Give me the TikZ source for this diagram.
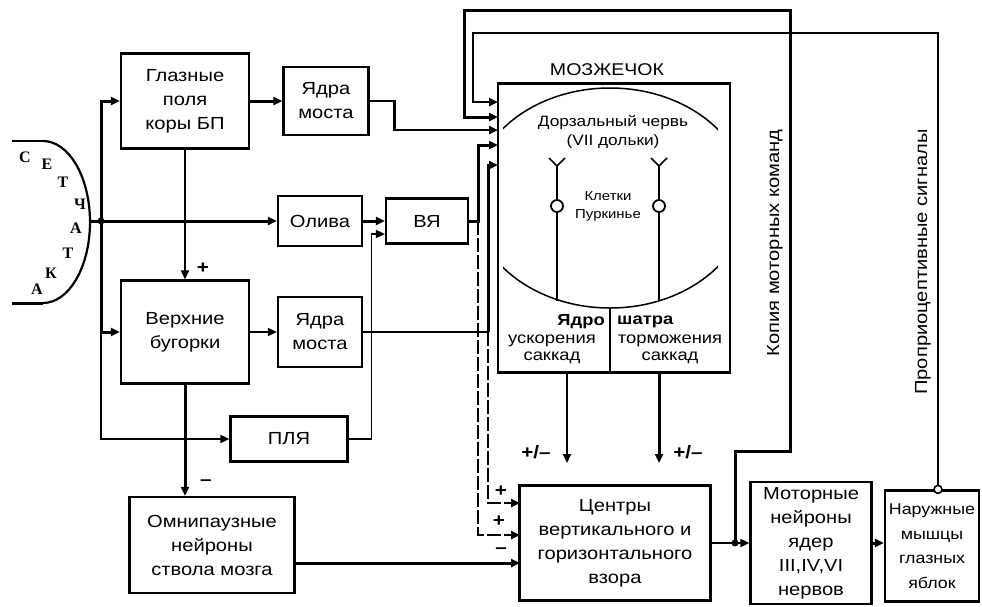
\documentclass[tikz,border=0pt]{standalone}
\usepackage{fontspec}
\setmainfont{Liberation Sans}[FakeStretch=1.15]
\newfontfamily\retinafont{Liberation Serif}
\usetikzlibrary{arrows.meta, positioning, calc}

\newcommand{\boxfont}{\fontsize{17.5}{24}\selectfont}

\begin{document}
\begin{tikzpicture}[
    x=1pt, y=-1pt,
    block/.style={rectangle, draw, line width=2.2pt, align=center, font=\boxfont, inner sep=1pt},
    arrow/.style={-{Triangle[length=9pt, width=8pt]}, line width=3pt},
    thinarrow/.style={-{Triangle[length=9pt, width=8pt]}, line width=1.7pt},
    dasharrow/.style={-{Triangle[length=9pt, width=8pt]}, line width=2.6pt, dash pattern=on 14pt off 3pt},
    link/.style={line width=3pt},
    thinlink/.style={line width=1.6pt},
    sign/.style={font=\fontsize{18}{18}\selectfont\bfseries, inner sep=1pt},
    dot/.style={circle, fill, inner sep=0pt, minimum size=7pt},
    soma/.style={circle, draw, fill=white, line width=1.8pt, minimum size=12pt, inner sep=0pt},
    retina/.style={font={\retinafont\fontsize{16}{16}\selectfont\bfseries}, inner sep=0pt},
    cerebtext/.style={font=\fontsize{15}{19}\selectfont, align=center, inner sep=1pt},
    nucleus/.style={font=\fontsize{16}{17}\selectfont, align=center, inner sep=1pt},
    vlabel/.style={rotate=90, font=\fontsize{17.5}{17.5}\selectfont, inner sep=1pt},
]
    \useasboundingbox (0,0) rectangle (982,606);

    % Retina
    \begin{scope}
        \clip (43,100) rectangle (110,340);
        \draw[line width=2.2pt] (43,222) ellipse[x radius=47, y radius=81];
    \end{scope}
    \draw[line width=2pt] (12,141) -- (43,141);
    \draw[link] (12,303) -- (43,303);
    \foreach \ch/\px/\py [count=\i] in {С/25/157, Е/47/164, Т/63/182, Ч/80/204, А/76/228, Т/68/253, К/51/273, А/37/289}
        \node[retina] (ret\i) at (\px,\py) {\ch};
    \coordinate (ret) at (90,221);
    \coordinate (hub) at (101,221);

    % Blocks
    \node[block, minimum width=128pt, minimum height=95pt] (glaz) at (185,101) {Глазные\\поля\\коры БП};
    \node[block, minimum width=85pt, minimum height=68pt] (pons1) at (326,101) {Ядра\\моста};
    \node[block, minimum width=84pt, minimum height=50pt] (oliva) at (320,221) {Олива};
    \node[block, minimum width=82pt, minimum height=45pt] (vya) at (427,221) {ВЯ};
    \node[block, minimum width=128pt, minimum height=103pt] (verh) at (185,332) {Верхние\\бугорки};
    \node[block, minimum width=84pt, minimum height=70pt] (pons2) at (320,332) {Ядра\\моста};
    \node[block, minimum width=117pt, minimum height=45pt] (plya) at (289,439) {ПЛЯ};
    \node[block, minimum width=165pt, minimum height=96pt] (omni) at (212,545) {Омнипаузные\\нейроны\\ствола мозга};
    \node[block, minimum width=191pt, minimum height=115pt] (centr) at (615,543) {Центры\\вертикального и\\горизонтального\\взора};
    \node[block, minimum width=121pt, minimum height=122pt] (motor) at (811,543) {Моторные\\нейроны\\ядер\\III,IV,VI\\нервов};
    \node[block, minimum width=94pt, minimum height=111pt, font=\fontsize{15.5}{24.5}\selectfont] (mysh) at (932,546) {Наружные\\мышцы\\глазных\\яблок};

    % Cerebellum
    \node[block, line width=2.8pt, minimum width=232pt, minimum height=289pt] (cereb) at (614,228) {};
    \node[font=\fontsize{17}{17}\selectfont, inner sep=1pt] (cerebtitle) at (607,70) {МОЗЖЕЧОК};
    \begin{scope}
        \clip (503,80) rectangle (718,320);
        \draw[line width=1.5pt] (610,198) ellipse[x radius=138, y radius=110];
    \end{scope}
    \node[cerebtext] (vermis) at (613,132) {Дорзальный червь\\(VII дольки)};
    \foreach \nx [count=\i] in {557, 659} {
        \draw[line width=2.4pt] (\nx,166) -- (\nx,301);
        \draw[thinlink] (\nx-8,158) -- (\nx,166) -- (\nx+8,158);
        \node[soma] (purk\i) at (\nx,206) {};
    }
    \node[font=\fontsize{13}{18}\selectfont, align=center, inner sep=1pt] (purklabel) at (608,206) {Клетки\\Пуркинье};
    \coordinate (divtop) at (610,309);
    \draw[line width=1.8pt] (divtop) -- (divtop |- cereb.south);
    \node[nucleus, anchor=east] (yadro) at (606,322) {\bfseries Ядро};
    \node[nucleus, anchor=west] (shatra) at (616,322) {\bfseries шатра};
    \node[nucleus] (accel) at (552,349) {ускорения\\саккад};
    \node[nucleus] (brake) at (670,349) {торможения\\саккад};

    % Routing points
    \coordinate (inProp) at (498,102);
    \coordinate (inCopy) at (498,117);
    \coordinate (inPons) at (498,130);
    \coordinate (inVya) at (498,145);
    \coordinate (inPons2) at (498,165);
    \coordinate (ctrIn1) at (520,503);
    \coordinate (ctrIn2) at (520,535);
    \coordinate (ctrIn3) at (520,563);
    \coordinate (accelOut) at (567,463);
    \coordinate (brakeOut) at (659,463);
    \coordinate (copyJ) at (735,543);
    \coordinate (copyRise) at (790,451);
    \coordinate (copyTop) at (464,10);
    \coordinate (propTop) at (473,33);

    % Retina projections
    \draw[arrow] (ret) -- (oliva.west);
    \node[dot] (hubDot) at (hub) {};
    \draw[arrow] (hub) |- (glaz.west);
    \draw[arrow] (hub) |- (verh.west);
    \draw[thinarrow] (hub) |- (plya.west);

    % Cortex and colliculus
    \draw[arrow] (glaz.east) -- (pons1.west);
    \draw[thinarrow] (glaz.south) -- (verh.north);
    \node[sign] (plusGlaz) at (203,268) {+};
    \draw[thinarrow] (verh.east) -- (pons2.west);
    \draw[arrow] (verh.south) -- (verh.south |- omni.north);
    \node[sign] (minusVerh) at (206,483) {--};

    % Brainstem to cerebellum
    \draw[arrow] (oliva.east) -- (vya.west);
    \draw[thinarrow] (plya.east) -- ++(23,0) |- ([yshift=-13pt]vya.west);
    \draw[arrow, line width=2.4pt] (pons1.east) -- ++(25,0) |- (inPons);
    \draw[arrow] (vya.east) -- ++(9,0) coordinate (vyaJ) |- (inVya);
    \draw[dasharrow] (vyaJ) |- (ctrIn2);
    \draw[link, line width=2.4pt] (pons2.east) -- ++(125,0) coordinate (pons2J);
    \draw[arrow] (pons2J) |- (inPons2);
    \draw[dasharrow] (pons2J) |- (ctrIn1);
    \node[sign] (plus1) at (501,491) {+};
    \node[sign] (plus2) at (499,521) {+};

    % Omnipause
    \draw[arrow] ([yshift=-18pt]omni.east) -- (ctrIn3);
    \node[sign] (minusOmni) at (501,551) {--};

    % Cerebellar output
    \draw[thinarrow] (cereb.south -| accelOut) -- (accelOut);
    \draw[arrow] (cereb.south -| brakeOut) -- (brakeOut);
    \node[sign] (pmAccel) at (536,452) {+/--};
    \node[sign] (pmBrake) at (688,452) {+/--};

    % Motor chain
    \draw[thinarrow] (centr.east) -- (motor.west);
    \draw[arrow] (motor.east) -- (motor.east -| mysh.west);

    % Feedback loops
    \draw[arrow] (copyJ) |- (copyRise) |- (copyTop) |- (inCopy);
    \node[dot] (copyDot) at (copyJ) {};
    \node[vlabel] (copyLabel) at (775,243) {Копия моторных команд};
    \draw[arrow, line width=2.4pt] ([xshift=6pt]mysh.north) |- (propTop) |- (inProp);
    \node[circle, draw, fill=white, line width=1.6pt, minimum size=8pt, inner sep=0pt] (propDot) at ([xshift=6pt]mysh.north) {};
    \node[vlabel] (propLabel) at (923,262) {Проприоцептивные сигналы};

\end{tikzpicture}
\end{document}
